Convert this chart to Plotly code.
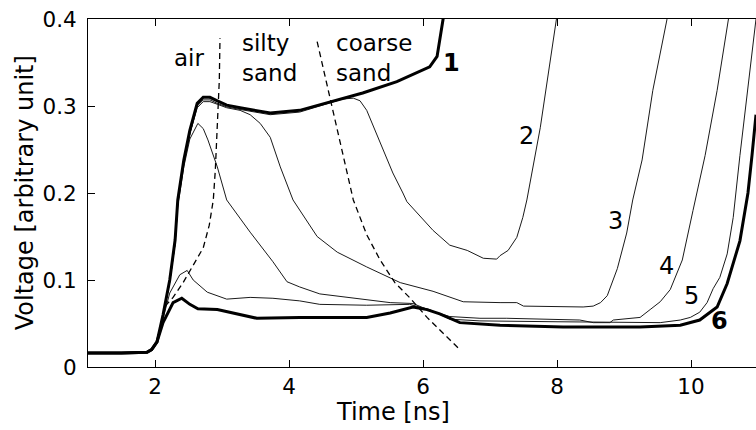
import plotly.graph_objects as go

# ---- data (Time [ns], Voltage [arbitrary unit]) ----
x1 = [1.0, 1.5, 1.88, 1.95, 2.03, 2.12, 2.22, 2.30, 2.34, 2.43, 2.52, 2.63, 2.72, 2.82, 2.93, 3.07, 3.27, 3.72, 4.16, 4.61, 5.10, 5.61, 6.10, 6.21, 6.30, 6.33]
y1 = [0.016, 0.016, 0.017, 0.020, 0.029, 0.060, 0.100, 0.146, 0.192, 0.238, 0.272, 0.303, 0.310, 0.310, 0.306, 0.301, 0.298, 0.292, 0.295, 0.305, 0.315, 0.328, 0.345, 0.357, 0.400, 0.430]

x2 = [1.0, 1.5, 1.88, 1.95, 2.03, 2.12, 2.22, 2.30, 2.34, 2.43, 2.52, 2.63, 2.72, 2.82, 2.93, 3.07, 3.27, 3.72, 4.16, 4.61, 4.80, 4.96, 5.06, 5.16, 5.36, 5.55, 5.70, 5.76, 6.15, 6.40, 6.66, 6.90, 7.10, 7.15, 7.27, 7.40, 7.49, 7.55, 7.75, 8.00, 8.03]
y2 = [0.016, 0.016, 0.017, 0.020, 0.029, 0.058, 0.098, 0.142, 0.188, 0.234, 0.268, 0.300, 0.307, 0.307, 0.303, 0.299, 0.296, 0.290, 0.293, 0.304, 0.308, 0.309, 0.306, 0.295, 0.257, 0.223, 0.200, 0.190, 0.157, 0.140, 0.134, 0.125, 0.124, 0.128, 0.134, 0.149, 0.172, 0.192, 0.275, 0.400, 0.420]

x3 = [1.0, 1.5, 1.88, 1.95, 2.03, 2.12, 2.22, 2.30, 2.34, 2.43, 2.52, 2.63, 2.72, 2.82, 2.93, 3.07, 3.27, 3.42, 3.57, 3.72, 3.87, 4.06, 4.42, 4.72, 5.16, 5.66, 6.15, 6.60, 7.15, 7.40, 7.50, 8.39, 8.54, 8.65, 8.75, 8.90, 9.04, 9.13, 9.27, 9.43, 9.64, 9.67]
y3 = [0.016, 0.016, 0.017, 0.020, 0.029, 0.058, 0.098, 0.142, 0.188, 0.234, 0.268, 0.298, 0.305, 0.305, 0.302, 0.298, 0.295, 0.290, 0.280, 0.264, 0.230, 0.192, 0.150, 0.132, 0.115, 0.097, 0.087, 0.075, 0.074, 0.074, 0.070, 0.069, 0.070, 0.074, 0.082, 0.113, 0.154, 0.192, 0.238, 0.318, 0.399, 0.420]

x4 = [1.0, 1.5, 1.88, 1.95, 2.03, 2.12, 2.22, 2.30, 2.34, 2.43, 2.52, 2.64, 2.72, 2.79, 2.93, 3.07, 3.42, 3.76, 3.97, 4.16, 4.46, 4.66, 5.16, 5.51, 5.85, 6.10, 6.40, 6.85, 7.25, 8.34, 8.54, 8.79, 8.84, 9.24, 9.39, 9.54, 9.69, 9.87, 10.03, 10.21, 10.39, 10.57, 10.60]
y4 = [0.016, 0.016, 0.017, 0.020, 0.029, 0.058, 0.098, 0.142, 0.185, 0.230, 0.262, 0.280, 0.274, 0.261, 0.230, 0.192, 0.155, 0.121, 0.098, 0.092, 0.084, 0.082, 0.077, 0.074, 0.073, 0.065, 0.058, 0.056, 0.056, 0.054, 0.051, 0.051, 0.054, 0.057, 0.066, 0.075, 0.089, 0.123, 0.180, 0.243, 0.318, 0.399, 0.420]

x5 = [1.0, 1.5, 1.88, 1.95, 2.03, 2.12, 2.22, 2.37, 2.48, 2.57, 2.78, 3.07, 3.42, 3.76, 4.16, 4.46, 5.16, 5.80, 6.10, 6.40, 6.85, 8.00, 9.00, 9.54, 9.84, 9.99, 10.13, 10.24, 10.33, 10.43, 10.54, 10.63, 10.73, 10.80, 10.88, 10.97]
y5 = [0.016, 0.016, 0.017, 0.020, 0.029, 0.055, 0.085, 0.106, 0.111, 0.100, 0.086, 0.078, 0.080, 0.079, 0.076, 0.072, 0.071, 0.072, 0.066, 0.055, 0.053, 0.052, 0.051, 0.051, 0.054, 0.057, 0.063, 0.074, 0.090, 0.103, 0.130, 0.172, 0.243, 0.290, 0.340, 0.400]

x6 = [1.0, 1.5, 1.88, 1.95, 2.03, 2.12, 2.27, 2.40, 2.52, 2.64, 2.93, 3.27, 3.52, 4.16, 5.16, 5.51, 5.85, 6.06, 6.25, 6.55, 7.15, 8.09, 9.24, 9.84, 10.13, 10.39, 10.54, 10.73, 10.85, 10.91, 10.97]
y6 = [0.016, 0.016, 0.017, 0.020, 0.029, 0.051, 0.074, 0.079, 0.072, 0.067, 0.066, 0.060, 0.056, 0.057, 0.057, 0.062, 0.069, 0.066, 0.061, 0.051, 0.048, 0.046, 0.046, 0.048, 0.054, 0.069, 0.096, 0.145, 0.200, 0.243, 0.290]

# boundary (dashed) lines
xd1 = [2.15, 2.27, 2.42, 2.57, 2.72, 2.81, 2.87, 2.90, 2.93, 2.96, 2.97]
yd1 = [0.070, 0.080, 0.097, 0.117, 0.137, 0.163, 0.192, 0.226, 0.284, 0.330, 0.378]
xd2 = [4.42, 4.69, 4.96, 5.16, 5.36, 5.58, 5.81, 6.06, 6.30, 6.55]
yd2 = [0.374, 0.284, 0.192, 0.152, 0.123, 0.097, 0.079, 0.057, 0.039, 0.020]

x_ticks = [2, 4, 6, 8, 10]
y_ticks = [0, 0.1, 0.2, 0.3, 0.4]
y_tick_text = ["0", "0.1", "0.2", "0.3", "0.4"]

FONT = "DejaVu Sans, Liberation Sans, Arial, sans-serif"
FS_TICK = 21.5
FS = 24
FS_ZONE = 23

fig = go.Figure()
thin = dict(color="#1a1a1a", width=1)
thick = dict(color="black", width=3)
for xs, ys in [(x2, y2), (x3, y3), (x4, y4), (x5, y5)]:
    fig.add_trace(go.Scatter(x=xs, y=ys, mode="lines", line=thin, hoverinfo="skip"))
for xs, ys in [(x1, y1), (x6, y6)]:
    fig.add_trace(go.Scatter(x=xs, y=ys, mode="lines", line=thick, hoverinfo="skip"))
for xs, ys in [(xd1, yd1), (xd2, yd2)]:
    fig.add_trace(go.Scatter(x=xs, y=ys, mode="lines",
                             line=dict(color="black", width=1.3, dash="6px,4px"), hoverinfo="skip"))

ann = []
def txt(x, y, s, bold=False, xanchor="center", size=FS):
    ann.append(dict(x=x, y=y, xref="x", yref="y", text=("<b>%s</b>" % s) if bold else s,
                    showarrow=False, xanchor=xanchor, yanchor="middle", align="left",
                    font=dict(family=FONT, size=size, color="black")))

txt(2.51, 0.355, "air", size=FS_ZONE)
txt(3.27, 0.355, "silty<br>sand", xanchor="left", size=FS_ZONE)
txt(4.67, 0.355, "coarse<br>sand", xanchor="left", size=FS_ZONE)
txt(6.42, 0.349, "1", bold=True)
txt(7.54, 0.266, "2")
txt(8.88, 0.168, "3")
txt(9.63, 0.116, "4")
txt(10.0, 0.082, "5")
txt(10.43, 0.053, "6", bold=True)

ann.append(dict(x=-0.094, y=0.5, xref="paper", yref="paper", text="Voltage [arbitrary unit]",
                textangle=-90, showarrow=False, xanchor="center", yanchor="middle",
                font=dict(family=FONT, size=FS, color="black")))
ann.append(dict(x=0.457, y=-0.129, xref="paper", yref="paper", text="Time [ns]",
                showarrow=False, xanchor="center", yanchor="middle",
                font=dict(family=FONT, size=FS, color="black")))

fig.update_layout(
    width=756, height=430,
    margin=dict(l=88, r=0, t=19, b=63),
    paper_bgcolor="white", plot_bgcolor="white",
    showlegend=False,
    annotations=ann,
    font=dict(family=FONT, size=FS_TICK, color="black"),
    xaxis=dict(range=[1, 10.97], tickvals=x_ticks, ticktext=[str(v) for v in x_ticks],
               ticks="inside", ticklen=7, tickcolor="black", tickwidth=1,
               showline=True, linecolor="black", linewidth=1, mirror="ticks",
               showgrid=False, zeroline=False,
               tickfont=dict(family=FONT, size=FS_TICK, color="black")),
    yaxis=dict(range=[0, 0.4], tickvals=y_ticks, ticktext=y_tick_text,
               ticks="inside", ticklen=7, tickcolor="black", tickwidth=1,
               showline=True, linecolor="black", linewidth=1, mirror=False,
               showgrid=False, zeroline=False, ticklabelstandoff=6,
               tickfont=dict(family=FONT, size=FS_TICK, color="black")),
)

fig.write_html("out.html")
